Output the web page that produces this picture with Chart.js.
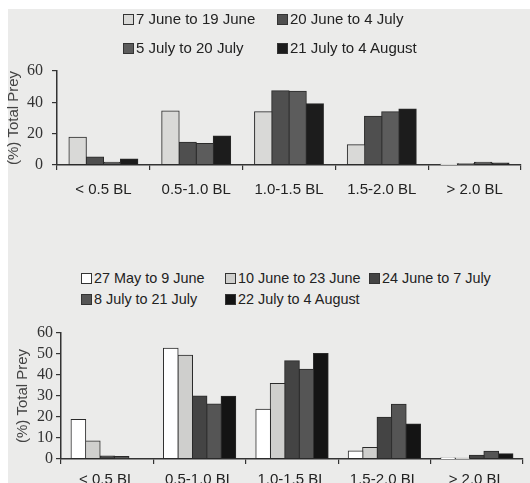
<!DOCTYPE html>
<html>
<head>
<meta charset="utf-8">
<script src="https://cdn.jsdelivr.net/npm/chart.js@4"></script>
<style>
    body { margin: 0; width: 530px; height: 483px; overflow: hidden; background: #fff; position: relative; font-family: "Liberation Sans", Arial, sans-serif; }
    #paper { position: absolute; left: 8px; top: 9px; right: 0; bottom: 0; background: #ebebea; }
    .box { position: absolute; }
    .leg { position: absolute; color: #222; white-space: nowrap; line-height: 16px; }
    .leg i { display: inline-block; width: 9px; height: 9px; border: 1px solid #333; margin-right: 2px; vertical-align: -1px; }
</style>
</head>
<body>
<div id="paper"></div>
<div class="box" style="left:0;top:0;width:530px;height:200px"><canvas id="topChart"></canvas></div>
<div class="box" style="left:0;top:310px;width:530px;height:190px"><canvas id="bottomChart"></canvas></div>
<div id="legends"></div>
<script>
const categories = ['< 0.5 BL', '0.5-1.0 BL', '1.0-1.5 BL', '1.5-2.0 BL', '> 2.0 BL'];

// top panel
const topSeries = ['7 June to 19 June', '20 June to 4 July', '5 July to 20 July', '21 July to 4 August'];
const top1 = [17.7, 34.4, 34, 12.8, 0.3];
const top2 = [5.1, 14.5, 47.4, 31, 0.8];
const top3 = [1.7, 13.7, 47, 34, 1.7];
const top4 = [3.8, 18.4, 39.1, 35.7, 1.2];
const topColors = ['#d9d9d7', '#4f4f4f', '#5c5c5c', '#1c1c1c'];
const topTicks = [0, 20, 40, 60];

// bottom panel
const bottomSeries = ['27 May to 9 June', '10 June to 23 June', '24 June to 7 July', '8 July to 21 July', '22 July to 4 August'];
const bot1 = [18.8, 52.7, 23.7, 3.8, 0.4];
const bot2 = [8.5, 49.4, 35.9, 5.4, 0.2];
const bot3 = [1.4, 29.9, 46.7, 19.8, 1.7];
const bot4 = [1.1, 26.1, 42.7, 26, 3.6];
const bot5 = [0, 29.8, 50.2, 16.6, 2.5];
const bottomColors = ['#ffffff', '#cfcfcd', '#444444', '#555555', '#141414'];
const bottomTicks = [0, 10, 20, 30, 40, 50, 60];

function makeChart(id, names, values, colors, tickList, opts) {
    return new Chart(document.getElementById(id), {
        type: 'bar',
        data: {
            labels: categories,
            datasets: names.map((n, i) => ({
                label: n,
                data: values[i],
                backgroundColor: colors[i],
                borderColor: '#2a2a2a',
                borderWidth: 1,
                borderSkipped: false,
                inflateAmount: 0.6,
                categoryPercentage: opts.catPct,
                barPercentage: 1.0
            }))
        },
        options: {
            responsive: true,
            maintainAspectRatio: false,
            animation: false,
            layout: { padding: { left: 0, right: opts.right, top: opts.top, bottom: 0 } },
            plugins: { legend: { display: false }, tooltip: { enabled: false } },
            scales: {
                x: {
                    grid: { drawOnChartArea: false, tickLength: 5, color: '#333', lineWidth: 1.2 },
                    border: { color: '#333', width: 1.5 },
                    ticks: { color: '#222', padding: opts.xPad, maxRotation: 0, font: { family: '"Liberation Sans", Arial', size: 15 } },
                    afterFit: s => { s.height = opts.xHeight; }
                },
                y: {
                    min: 0,
                    max: 60,
                    afterBuildTicks: s => { s.ticks = tickList.map(v => ({ value: v })); },
                    grid: { drawOnChartArea: false, tickLength: 5, color: '#333', lineWidth: 1.2 },
                    border: { color: '#333', width: 1.5 },
                    ticks: { color: '#333', autoSkip: false, padding: opts.yPad, font: { family: '"Liberation Serif", "Times New Roman", serif', size: 16 } },
                    title: {
                        display: true,
                        text: '(%) Total Prey',
                        color: '#444',
                        padding: { top: opts.titleTop, bottom: 0 },
                        font: { family: '"Liberation Sans", Arial', size: 15 }
                    },
                    afterFit: s => { s.width = opts.yWidth; }
                }
            }
        }
    });
}

makeChart('topChart', topSeries, [top1, top2, top3, top4], topColors, topTicks,
    { catPct: 0.74, right: 9, top: 71, xHeight: 35, xPad: 11, yPad: 9, yWidth: 57, titleTop: 5 });
makeChart('bottomChart', bottomSeries, [bot1, bot2, bot3, bot4, bot5], bottomColors, bottomTicks,
    { catPct: 0.78, right: 7, top: 23, xHeight: 41, xPad: 7, yPad: 3, yWidth: 61, titleTop: 14 });

// legends (HTML, laid out on a grid like the original figure)
function makeLegend(names, colors, cols, rows, perRow, size) {
    const holder = document.getElementById('legends');
    names.forEach((n, i) => {
        const d = document.createElement('div');
        d.className = 'leg';
        d.style.fontSize = size + 'px';
        d.style.left = cols[i % perRow] + 'px';
        d.style.top = (rows[Math.floor(i / perRow)] - 8) + 'px';
        d.innerHTML = '<i style="background:' + colors[i] + '"></i>' + n;
        holder.appendChild(d);
    });
}
makeLegend(topSeries, topColors, [123, 277], [19, 48], 2, 15);
makeLegend(bottomSeries, bottomColors, [81, 225, 369], [278, 299], 3, 14.4);
</script>
</body>
</html>
